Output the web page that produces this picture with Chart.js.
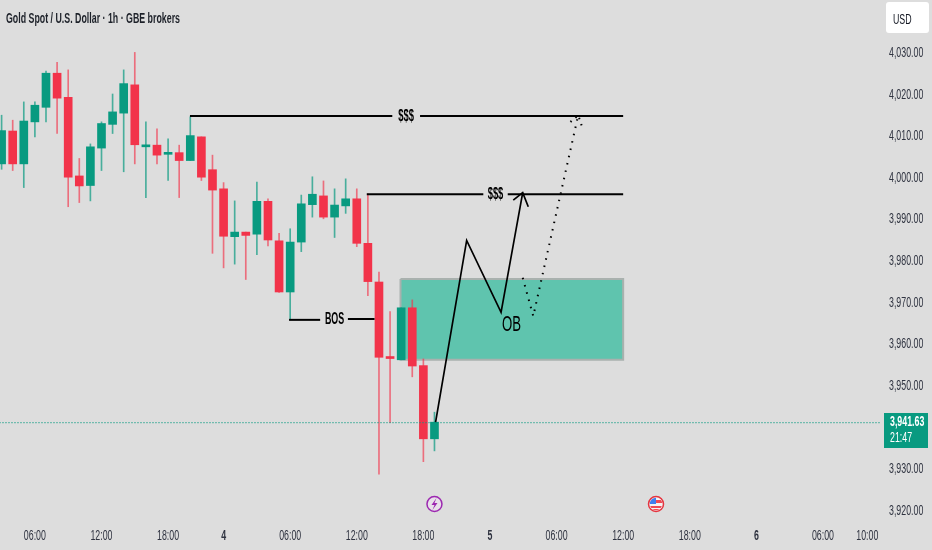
<!DOCTYPE html>
<html><head><meta charset="utf-8">
<style>html,body{margin:0;padding:0;background:#dddddd}canvas{display:block}</style>
<script src="https://cdn.jsdelivr.net/npm/chart.js@4"></script>
</head><body><canvas id="c" width="932" height="550" style="width:932px;height:550px"></canvas>
<script>
const opens =[4003.4,4011.3,4003.4,4013.5,4017.0,4025.2,4019.4,4000.5,3998.2,4007.2,4012.9,4015.6,4022.4,4007.5,4007.9,4005.7,4006.1,4004.2,4009.9,4002.0,3997.4,3985.9,3987.0,3986.5,3994.4,3984.9,3972.6,3984.6,3993.6,3995.7,3990.6,3993.3,3995.0,3984.3,3975.0,3956.9,3956.3,3968.8,3954.9,3937.3];
const highs =[4015.1,4013.9,4018.3,4018.3,4025.7,4027.8,4026.0,4004.7,4008.2,4013.5,4020.2,4026.0,4030.2,4013.5,4011.8,4009.4,4007.9,4014.7,4009.9,4005.5,3998.9,3994.5,3987.0,3999.0,3995.0,3986.7,3987.8,3995.9,4000.3,3999.3,3997.4,3999.8,3997.4,3996.2,3977.4,3967.9,3968.8,3970.7,3956.5,3943.7];
const lows  =[4002.1,4001.8,3997.7,4009.9,4013.5,4010.7,3993.1,3994.1,3994.5,4001.8,4010.7,4001.5,4003.4,3995.3,4003.4,3999.4,3995.3,4004.2,3999.4,3981.9,3978.4,3979.3,3975.6,3981.6,3983.7,3972.5,3965.9,3982.3,3990.6,3990.2,3985.7,3991.5,3983.5,3971.7,3928.8,3941.2,3956.3,3952.2,3931.8,3934.4];
const closes=[4011.4,4003.4,4013.7,4017.5,4025.2,4019.2,4000.2,3998.1,4007.5,4013.1,4015.9,4022.7,4008.0,4007.9,4005.5,4006.1,4004.2,4010.2,4000.2,3997.1,3986.0,3987.0,3986.2,3994.4,3985.1,3972.6,3984.6,3993.8,3996.1,3990.6,3993.5,3995.0,3984.3,3975.1,3956.9,3956.6,3968.8,3954.8,3937.3,3941.3];
const priceTicks=[3920,3930,3950,3960,3970,3980,3990,4000,4010,4020,4030];
const timeTickIdx=[3,9,15,20,26,32,38,44,50,56,62,68,74,78];
const timeTickLabels=['06:00','12:00','18:00','4','06:00','12:00','18:00','5','06:00','12:00','18:00','6','06:00','10:00'];
const zone=[[35.94,3975.7],[56.0,3975.7],[56.0,3956.3],[35.94,3956.3],[35.94,3975.7]];
const level1a=[[16.97,4014.9],[35.2,4014.9]];
const level1b=[[37.7,4014.9],[56.0,4014.9]];
const level2a=[[32.9,3996.1],[43.4,3996.1]];
const level2b=[[45.6,3996.1],[56.0,3996.1]];
const bosA=[[25.9,3965.9],[28.7,3965.9]];
const bosB=[[31.2,3966.1],[33.6,3966.1]];
const pathMain=[[39.1,3941.3],[41.9,3985.0],[45.0,3967.7],[46.95,3996.5]];
const arrowMain=[[46.1,3994.7],[46.95,3996.5],[47.45,3993.1]];
const pathDot=[[46.95,3976.0],[47.9,3966.8],[51.95,4015.1]];
const arrowDot=[[51.25,4013.5],[51.95,4015.1],[52.4,4011.5]];
const lastPrice=3941.2;
const labelsOnChart=[['$$$',36.45,4014.9,17,'bold',.55],['$$$',44.5,3996.1,17,'bold',.55],['BOS',30.0,3965.9,16.5,'bold',.54],['OB',45.95,3964.6,22,'normal',.6]];
const eventIdx=[39,58.96];
const F='"Liberation Sans",sans-serif';
const GREEN='#089a80',RED='#f2334a';
const pts=a=>a.map(p=>({x:p[0],y:p[1]}));
const up=i=>closes[i]>=opens[i];
function line(a,o){return Object.assign({type:'line',data:pts(a),pointRadius:0,borderColor:'#000',borderWidth:2,tension:0,fill:false,order:1},o||{});}
const cv=document.getElementById('c'),ctx2=cv.getContext('2d');
let narrow=.63;
const origFill=ctx2.fillText.bind(ctx2);
ctx2.fillText=function(t,x,y){ctx2.save();ctx2.translate(x,y);ctx2.scale(narrow,1);origFill(t,0,0);ctx2.restore();};
const overlay={id:'overlay',afterDatasetsDraw(ch){
  const c=ch.ctx,X=ch.scales.x,Y=ch.scales.y;
  c.save();c.textBaseline='middle';c.textAlign='center';c.fillStyle='#000';
  labelsOnChart.forEach(l=>{c.font=l[4]+' '+l[3]+'px '+F;narrow=l[5];c.fillText(l[0],X.getPixelForValue(l[1]),Y.getPixelForValue(l[2]));});
  narrow=.63;
  c.textAlign='left';c.fillStyle='#1d2129';c.font='bold 14px '+F;
  c.fillText('Gold Spot / U.S. Dollar · 1h · GBE brokers',6,19);
  c.fillStyle='#fff';c.beginPath();c.roundRect(886,2,43,31,3);c.fill();
  c.fillStyle='#131722';c.font='14px '+F;c.fillText('USD',893,20);
  c.fillStyle=GREEN;c.fillRect(884,413,44,35);
  c.fillStyle='#fff';c.font='bold 14px '+F;c.fillText('3,941.63',890,422);
  c.font='14px '+F;c.fillText('21:47',890,438);
  const yE=504,x1=X.getPixelForValue(eventIdx[0]),x2=X.getPixelForValue(eventIdx[1]);
  c.lineWidth=1.5;c.strokeStyle='#9c27b0';c.fillStyle='#e8e0ea';
  c.beginPath();c.arc(x1,yE,7.5,0,7);c.fill();c.stroke();
  c.fillStyle='#9c27b0';c.beginPath();
  [[2,-6],[-3,1],[0,1],[-2,6],[3,-1],[0,-1]].forEach((p,i)=>i?c.lineTo(x1+p[0],yE+p[1]):c.moveTo(x1+p[0],yE+p[1]));
  c.closePath();c.fill();
  c.fillStyle='#f3f3f3';c.strokeStyle='#e5343f';c.lineWidth=1.5;
  c.beginPath();c.arc(x2,yE,7.5,0,7);c.fill();c.stroke();
  c.save();c.beginPath();c.arc(x2,yE,6.2,0,7);c.clip();
  c.fillStyle='#3f7ff0';c.fillRect(x2-7,yE-7,7,7);
  c.fillStyle='#ef4a55';c.fillRect(x2,yE-4,7,3);c.fillRect(x2-7,yE+2,14,2);c.fillRect(x2-5,yE+5,10,2);
  c.restore();
  c.restore();
}};
new Chart(ctx2,{
  type:'bar',
  plugins:[overlay],
  data:{datasets:[
    {label:'zone',type:'line',data:pts(zone),fill:'shape',backgroundColor:'#5fc4ae',borderColor:'#a9b1ae',borderWidth:2,pointRadius:0,tension:0,order:6},
    {label:'wicks',data:opens.map((_,i)=>({x:i,y:[lows[i],highs[i]]})),barThickness:1,grouped:false,backgroundColor:opens.map((_,i)=>up(i)?'rgba(8,154,128,.7)':'rgba(242,51,74,.65)'),order:4},
    {label:'bodies',data:opens.map((_,i)=>({x:i,y:[opens[i],closes[i]]})),barThickness:8,grouped:false,minBarLength:2,backgroundColor:opens.map((_,i)=>up(i)?GREEN:RED),order:3},
    line([[-1,lastPrice],[80,lastPrice]],{borderColor:GREEN,borderWidth:1.2,borderDash:[1,2],order:2}),
    line(level1a),line(level1b),line(level2a),line(level2b),line(bosA),line(bosB),
    line(pathMain,{borderWidth:1.7}),line(arrowMain,{borderWidth:1.7}),
    line(pathDot,{borderDash:[1.5,6]}),line(arrowDot,{borderDash:[1.5,5]})
  ]},
  options:{
    responsive:false,animation:false,devicePixelRatio:1,
    layout:{padding:0},
    plugins:{legend:{display:false},tooltip:{enabled:false},title:{display:false}},
    scales:{
      x:{type:'linear',min:-0.144,max:79.14,offset:false,grid:{display:false,drawTicks:false},border:{display:false},
        afterBuildTicks(s){s.ticks=timeTickIdx.map(v=>({value:v}));},
        afterFit(s){s.height=28;s.paddingLeft=0;s.paddingRight=0;s.paddingTop=0;s.paddingBottom=0;},
        ticks:{autoSkip:false,maxRotation:0,padding:6,color:'#2f3340',
          font:ctx=>{const l=timeTickLabels[ctx.index];return {family:F,size:14,weight:l&&l.length===1?'bold':'normal'};},
          callback(v,i){return timeTickLabels[i];}}},
      y:{type:'linear',position:'right',min:3917.3,max:4042.8,grid:{display:false,drawTicks:false},border:{display:false},
        afterBuildTicks(s){s.ticks=priceTicks.map(v=>({value:v}));},
        afterFit(s){s.width=52;s.paddingTop=0;s.paddingBottom=0;s.paddingLeft=0;s.paddingRight=0;},
        ticks:{autoSkip:false,padding:9,color:'#2f3340',font:{family:F,size:14},
          callback:v=>v.toLocaleString('en-US',{minimumFractionDigits:2,maximumFractionDigits:2})}}
    }
  }
});
</script></body></html>
